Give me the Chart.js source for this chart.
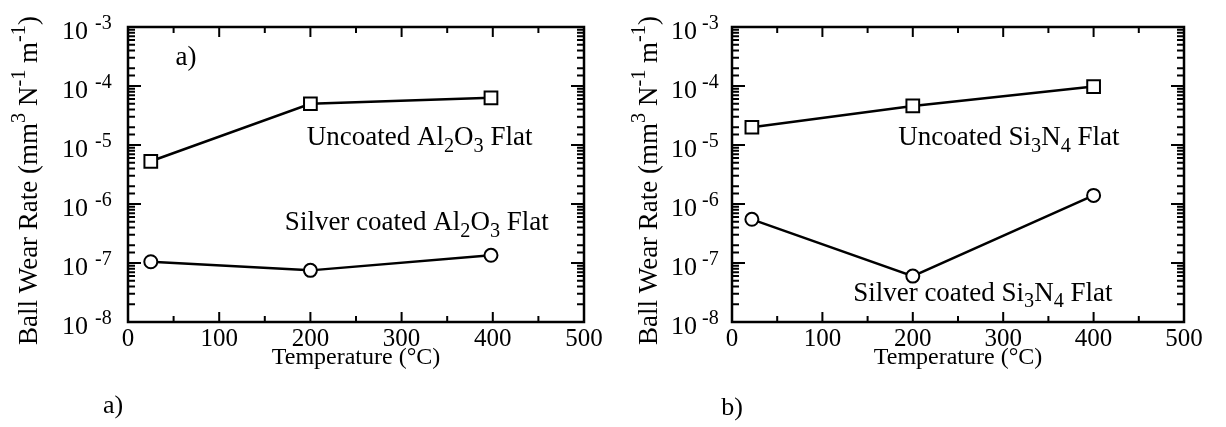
<!DOCTYPE html>
<html>
<head>
<meta charset="utf-8">
<script src="https://cdn.jsdelivr.net/npm/chart.js@4.4.0/dist/chart.umd.min.js"></script>
<style>
  body { margin: 0; background: #fff; }
  #wrap { position: relative; width: 1226px; height: 427px; }
  canvas { position: absolute; top: 0; }
  #pa { left: 0; }
  #pb { left: 613px; }
</style>
</head>
<body>
<div id="wrap">
  <canvas id="pa" width="613" height="427"></canvas>
  <canvas id="pb" width="613" height="427"></canvas>
</div>
<script>
// data
const TEMPS_A = [25, 200, 398];
const A_UNCOATED = [5.3e-6, 5.0e-5, 6.3e-5];
const A_SILVER = [1.05e-7, 7.5e-8, 1.35e-7];

const TEMPS_B = [22, 200, 400];
const B_UNCOATED = [2.0e-5, 4.6e-5, 9.8e-5];
const B_SILVER = [5.5e-7, 6.0e-8, 1.4e-6];

const X_MIN = 0, X_MAX = 500;
const Y_EXPONENTS = [-3, -4, -5, -6, -7, -8];

const FONT = '"Liberation Serif", "Times New Roman", serif';
Chart.defaults.font.family = FONT;
Chart.defaults.color = '#000';

// draws text pieces left to right, shrinking and shifting sub/sup pieces
function drawRich(ctx, parts, x, y, size){
    let cx = x;
    for(const [t, kind] of parts){
        const s = kind ? size * 0.75 : size;
        ctx.font = s + 'px ' + FONT;
        let dy = 0;
        if(kind == 'sub') dy = size * 0.25;
        if(kind == 'sup') dy = -size * 0.4;
        ctx.fillText(t, cx, y + dy);
        cx += ctx.measureText(t).width;
    }
    return cx - x;
}

function richWidth(ctx, parts, size){
    let w = 0;
    for(const [t, kind] of parts){
        ctx.font = (kind ? size * 0.75 : size) + 'px ' + FONT;
        w += ctx.measureText(t).width;
    }
    return w;
}

const framePlugin = {
    id: 'frame',
    afterDraw(chart){
        const cfg = chart.options.plugins.frame;
        const {ctx, chartArea: a, scales: {x, y}} = chart;
        ctx.save();
        ctx.strokeStyle = '#000';
        ctx.fillStyle = '#000';
        ctx.lineWidth = 2.5;
        ctx.strokeRect(a.left, a.top, a.right - a.left, a.bottom - a.top);

        // inward ticks, all four sides
        ctx.lineWidth = 2;
        ctx.beginPath();
        x.ticks.forEach(t => {
            const px = x.getPixelForValue(t.value);
            const len = t.value % 100 == 0 ? 10 : 6;
            ctx.moveTo(px, a.bottom); ctx.lineTo(px, a.bottom - len);
            ctx.moveTo(px, a.top); ctx.lineTo(px, a.top + len);
        });
        y.ticks.forEach(t => {
            const py = y.getPixelForValue(t.value);
            const major = Math.abs(Math.log10(t.value) - Math.round(Math.log10(t.value))) < 1e-6;
            const len = major ? 13 : 7;
            ctx.moveTo(a.left, py); ctx.lineTo(a.left + len, py);
            ctx.moveTo(a.right, py); ctx.lineTo(a.right - len, py);
        });
        ctx.stroke();

        // y tick labels 10^n
        ctx.textBaseline = 'alphabetic';
        Y_EXPONENTS.forEach(e => {
            const py = y.getPixelForValue(Math.pow(10, e));
            ctx.font = '26px ' + FONT;
            ctx.textAlign = 'right';
            ctx.fillText('10', a.left - cfg.labelGap, py + 12);
            ctx.font = '20px ' + FONT;
            ctx.textAlign = 'left';
            ctx.fillText('-' + Math.abs(e), a.left - cfg.expGap, py + 2);
        });

        // y axis title, rotated
        const title = [['Ball Wear Rate (mm'], ['3', 'sup'], [' N'], ['-1', 'sup'], [' m'], ['-1', 'sup'], [')']];
        const tw = richWidth(ctx, title, 27);
        ctx.save();
        ctx.translate(cfg.titleX, (a.top + a.bottom) / 2 + 6);
        ctx.rotate(-Math.PI / 2);
        ctx.textAlign = 'left';
        ctx.textBaseline = 'middle';
        drawRich(ctx, title, -tw / 2, 0, 27);
        ctx.restore();

        // notes placed in data coordinates
        ctx.textAlign = 'left';
        ctx.textBaseline = 'alphabetic';
        cfg.notes.forEach(n => {
            drawRich(ctx, n.parts, x.getPixelForValue(n.x), y.getPixelForValue(n.y), 27);
        });

        // panel caption under the axis
        ctx.font = '26px ' + FONT;
        ctx.textAlign = 'center';
        ctx.fillText(cfg.caption[0], cfg.caption[1], cfg.caption[2]);
        ctx.restore();
    }
};

function makePanel(canvas, p){
    const ctx = canvas.getContext('2d');
    const series = [p.uncoated, p.silver];
    const styles = [
        {pointStyle: 'rect', pointRadius: 9},
        {pointStyle: 'circle', pointRadius: 6.5},
    ];
    const datasets = series.map((vals, i) => ({
        data: vals.map((v, j) => ({x: p.temps[j], y: v})),
        borderColor: '#000',
        borderWidth: 2.5,
        pointStyle: styles[i].pointStyle,
        pointRadius: styles[i].pointRadius,
        pointBackgroundColor: '#fff',
        pointBorderColor: '#000',
        pointBorderWidth: 2,
        fill: false,
        tension: 0,
    }));
    new Chart(ctx, {
        type: 'line',
        data: {datasets: datasets},
        options: {
            responsive: false,
            animation: false,
            layout: {padding: {left: 0, top: 27, right: p.padRight, bottom: 55}},
            plugins: {
                legend: {display: false},
                tooltip: {enabled: false},
                frame: p,
            },
            scales: {
                x: {
                    type: 'linear',
                    min: X_MIN, max: X_MAX,
                    grid: {display: false, drawTicks: false},
                    border: {display: false},
                    ticks: {
                        stepSize: 50,
                        autoSkip: false,
                        maxRotation: 0,
                        padding: 2,
                        font: {size: 25},
                        callback: v => v % 100 == 0 ? String(v) : '',
                    },
                    title: {display: true, text: 'Temperature (°C)', font: {size: 24}, padding: 0},
                    afterFit: s => { s.height = 50; },
                },
                y: {
                    type: 'logarithmic',
                    min: 1e-8, max: 1e-3,
                    grid: {display: false, drawTicks: false},
                    border: {display: false},
                    ticks: {display: false, autoSkip: false},
                    afterFit: s => { s.width = p.axisWidth; },
                },
            },
        },
        plugins: [framePlugin],
    });
}

function main(){
    makePanel(document.getElementById('pa'), {
        temps: TEMPS_A, uncoated: A_UNCOATED, silver: A_SILVER,
        axisWidth: 128, padRight: 29,
        titleX: 30, labelGap: 40, expGap: 33,
        caption: ['a)', 113, 413],
        notes: [
            {parts: [['a)']], x: 52, y: 2.3e-4},
            {parts: [['Uncoated Al'], ['2', 'sub'], ['O'], ['3', 'sub'], [' Flat']], x: 196, y: 1e-5},
            {parts: [['Silver coated Al'], ['2', 'sub'], ['O'], ['3', 'sub'], [' Flat']], x: 172, y: 3.6e-7},
        ]
    });
    makePanel(document.getElementById('pb'), {
        temps: TEMPS_B, uncoated: B_UNCOATED, silver: B_SILVER,
        axisWidth: 119, padRight: 42,
        titleX: 37, labelGap: 35, expGap: 30,
        caption: ['b)', 119, 415],
        notes: [
            {parts: [['Uncoated Si'], ['3', 'sub'], ['N'], ['4', 'sub'], [' Flat']], x: 184, y: 1e-5},
            {parts: [['Silver coated Si'], ['3', 'sub'], ['N'], ['4', 'sub'], [' Flat']], x: 134, y: 2.3e-8},
        ]
    });
}

main();
</script>
</body>
</html>
